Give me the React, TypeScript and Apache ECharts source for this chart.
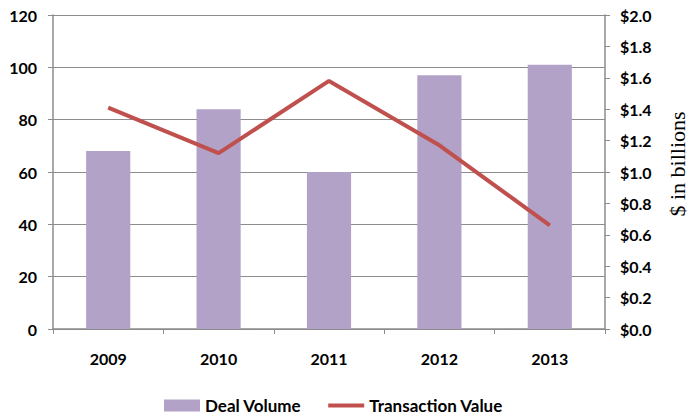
import React, { useEffect, useRef } from "react";
import * as echarts from "echarts";

const years = ["2009", "2010", "2011", "2012", "2013"];
const dealVolume = [68, 84, 60, 97, 101];
const transactionValue = [1.41, 1.12, 1.58, 1.17, 0.66];

const FONT = "Lato";

export default function App() {
  const ref = useRef<HTMLDivElement>(null);
  useEffect(() => {
    if (!ref.current) return;
    const chart = echarts.init(ref.current, undefined, { renderer: "svg" });
    const gray = "#8c8c8c";
    chart.setOption({
      animation: false,
      grid: { left: 53, right: 83, top: 15, bottom: 86, containLabel: false },
      legend: {
        bottom: 1,
        left: 164,
        padding: 0,
        itemWidth: 36,
        itemHeight: 12,
        itemGap: 27,
        itemStyle: { borderWidth: 0 },
        textStyle: { fontFamily: FONT, fontWeight: "bold", fontSize: 17, color: "#000" },
        data: [
          { name: "Deal Volume", icon: "rect" },
          { name: "Transaction Value", icon: "path://M0,0H36V4H0Z" },
        ],
      },
      xAxis: {
        type: "category",
        data: years,
        axisLine: { lineStyle: { color: gray, width: 1.5 } },
        axisTick: { show: true, length: 5, lineStyle: { color: gray } },
        axisLabel: {
          fontFamily: FONT,
          fontWeight: "bold",
          fontSize: 16,
          color: "#000",
          margin: 21,
        },
      },
      yAxis: [
        {
          type: "value",
          min: 0,
          max: 120,
          interval: 20,
          axisLine: { show: true, lineStyle: { color: gray, width: 1.5 } },
          axisTick: { show: true, length: 5, lineStyle: { color: gray } },
          splitLine: { show: true, lineStyle: { color: gray, width: 1 } },
          axisLabel: {
            fontFamily: FONT,
            fontWeight: "bold",
            fontSize: 16,
            color: "#000",
            margin: 16,
          },
        },
        {
          type: "value",
          min: 0,
          max: 2,
          interval: 0.2,
          position: "right",
          axisLine: { show: true, lineStyle: { color: gray, width: 1.5 } },
          axisTick: { show: true, length: 5, lineStyle: { color: gray } },
          splitLine: { show: false },
          axisLabel: {
            fontFamily: FONT,
            fontWeight: "bold",
            fontSize: 16,
            color: "#000",
            margin: 15,
            formatter: (v: number) => "$" + v.toFixed(1),
          },
        },
      ],
      graphic: [
        {
          type: "text",
          x: 677,
          y: 164,
          rotation: Math.PI / 2,
          style: {
            text: "$ in billions",
            fontFamily: "Liberation Serif",
            fontSize: 22,
            fill: "#000",
            align: "center",
            verticalAlign: "middle",
          },
        },
      ],
      series: [
        {
          name: "Deal Volume",
          type: "bar",
          data: dealVolume,
          barWidth: "40%",
          itemStyle: { color: "#B2A2C7" },
        },
        {
          name: "Transaction Value",
          type: "line",
          yAxisIndex: 1,
          data: transactionValue,
          symbol: "none",
          lineStyle: { color: "#C0504D", width: 4 },
          itemStyle: { color: "#C0504D" },
        },
      ],
    });
    return () => chart.dispose();
  }, []);
  return <div ref={ref} style={{ width: 688, height: 415, position: "absolute", left: 0, top: 0 }} />;
}
